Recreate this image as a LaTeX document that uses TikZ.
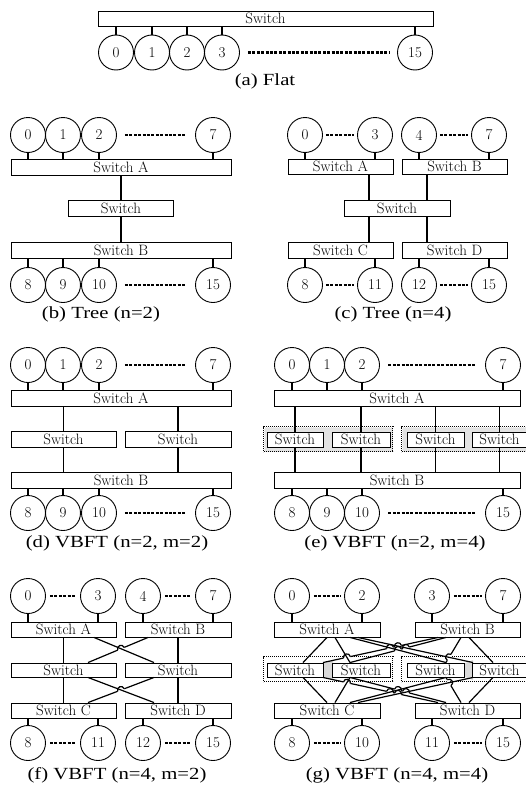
\documentclass[tikz,border=0pt]{standalone}
\usepackage{fontspec}
\newfontfamily\capfont[FakeStretch=1.22]{Liberation Serif}
\usetikzlibrary{calc}
\newcommand\hoperase[3]{%
  \coordinate (hX) at ($(#1)!#3!(#2)$);
  \coordinate (hA) at ($(hX)!3.5pt!(#1)$);
  \coordinate (hB) at ($(hX)!3.5pt!(#2)$);
  \draw[white,line width=2.8pt] (hA) -- (hB);}
\newcommand\hoparc[3]{%
  \coordinate (hX) at ($(#1)!#3!(#2)$);
  \coordinate (hA) at ($(hX)!3.5pt!(#1)$);
  \coordinate (hB) at ($(hX)!3.5pt!(#2)$);
  \draw[ln] (hA) .. controls ($(hA)!4.6pt!90:(hX)$) and ($(hB)!4.6pt!-90:(hX)$) .. (hB);}
\begin{document}
\begin{tikzpicture}[x=1pt,y=-1pt,
 sw/.style={draw,line width=0.9pt,fill=white,inner sep=0pt,font=\fontsize{15}{15}\selectfont},
 pe/.style={draw,circle,line width=0.9pt,minimum size=35pt,inner sep=0pt,font=\fontsize{15}{15}\selectfont},
 ln/.style={line width=1.2pt},
 dots/.style={line width=2.6pt,dash pattern=on 3pt off 1.4pt},
 captxt/.style={font=\capfont\fontsize{17}{17}\selectfont},
 grp/.style={draw,line width=0.9pt,dash pattern=on 1.3pt off 0.7pt,double=white,double distance=0.8pt,inner sep=0pt},
]
\fill[white] (0,0) rectangle (526,787);
\useasboundingbox (0,0) rectangle (526,787);

% ---------- (a) Flat
\node[sw,minimum width=335pt,minimum height=15pt] (aS) at (265.5,18.5) {Switch};
\foreach \n/\x/\t in {a0/116/0,a1/152/1,a2/187/2,a3/222/3,a15/415/15}
  \node[pe] (\n) at (\x,52.5) {\t};
\foreach \n in {a0,a1,a2,a3,a15} \draw[ln] (\n.north) -- (\n.north |- aS.south);
\draw[dots] ([xshift=8pt]a3.east) -- ([xshift=-8pt]a15.west);
\node[captxt] (capa) at (265,81) {(a) Flat};

% ---------- (b) Tree n=2
\foreach \n/\x/\t in {b0/28/0,b1/63/1,b2/99/2,b7/213/7}
  \node[pe] (\n) at (\x,135) {\t};
\node[sw,minimum width=220pt,minimum height=16pt] (bA) at (121,167) {Switch A};
\node[sw,minimum width=105pt,minimum height=16pt] (bM) at (121,208.5) {Switch};
\node[sw,minimum width=220pt,minimum height=16pt] (bB) at (121,250) {Switch B};
\foreach \n/\x/\t in {b8/28/8,b9/63/9,b10/99/10,b15/213/15}
  \node[pe] (\n) at (\x,285) {\t};
\foreach \n in {b0,b1,b2,b7} \draw[ln] (\n.south) -- (\n.south |- bA.north);
\foreach \n in {b8,b9,b10,b15} \draw[ln] (\n.north) -- (\n.north |- bB.south);
\draw[dots] ([xshift=8pt]b2.east) -- ([xshift=-10pt]b7.west);
\draw[dots] ([xshift=8pt]b10.east) -- ([xshift=-10pt]b15.west);
\draw[ln] (bA) -- (bM);
\draw[ln] (bM) -- (bB);
\node[captxt] (capb) at (101,314) {(b) Tree (n=2)};

% ---------- (c) Tree n=4
\foreach \n/\x/\t in {c0/305/0,c3/375/3,c4/419/4,c7/489/7}
  \node[pe] (\n) at (\x,135) {\t};
\node[sw,minimum width=105pt,minimum height=15pt] (cA) at (340.5,166.5) {Switch A};
\node[sw,minimum width=105pt,minimum height=15pt] (cB) at (454.5,166.5) {Switch B};
\node[sw,minimum width=106pt,minimum height=16pt] (cM) at (397,208) {Switch};
\node[sw,minimum width=105pt,minimum height=16pt] (cC) at (340.5,250) {Switch C};
\node[sw,minimum width=105pt,minimum height=16pt] (cD) at (454.5,250) {Switch D};
\foreach \n/\x/\t in {c8/305/8,c11/375/11,c12/419/12,c15/489/15}
  \node[pe] (\n) at (\x,285) {\t};
\foreach \n/\s in {c0/cA,c3/cA,c4/cB,c7/cB} \draw[ln] (\n.south) -- (\n.south |- \s.north);
\foreach \n/\s in {c8/cC,c11/cC,c12/cD,c15/cD} \draw[ln] (\n.north) -- (\n.north |- \s.south);
\draw[dots] ([xshift=3pt]c0.east) -- ([xshift=-3pt]c3.west);
\draw[dots] ([xshift=3pt]c4.east) -- ([xshift=-3pt]c7.west);
\draw[dots] ([xshift=3pt]c8.east) -- ([xshift=-3pt]c11.west);
\draw[dots] ([xshift=3pt]c12.east) -- ([xshift=-3pt]c15.west);
\draw[ln] ([xshift=28.5pt]cA.south) -- ([xshift=28.5pt]cA.south |- cM.north);
\draw[ln] ([xshift=-27.5pt]cB.south) -- ([xshift=-27.5pt]cB.south |- cM.north);
\draw[ln] ([xshift=28.5pt]cC.north) -- ([xshift=28.5pt]cC.north |- cM.south);
\draw[ln] ([xshift=-27.5pt]cD.north) -- ([xshift=-27.5pt]cD.north |- cM.south);
\node[captxt] (capc) at (393,314) {(c) Tree (n=4)};

% ---------- (d) VBFT n=2 m=2
\foreach \n/\x/\t in {d0/28/0,d1/63/1,d2/99/2,d7/213/7}
  \node[pe] (\n) at (\x,365) {\t};
\node[sw,minimum width=220pt,minimum height=16pt] (dA) at (121,398) {Switch A};
\node[sw,minimum width=105pt,minimum height=16pt] (dL) at (63.5,439) {Switch};
\node[sw,minimum width=106pt,minimum height=16pt] (dR) at (178,439) {Switch};
\node[sw,minimum width=220pt,minimum height=16pt] (dB) at (121,480) {Switch B};
\foreach \n/\x/\t in {d8/28/8,d9/63/9,d10/99/10,d15/213/15}
  \node[pe] (\n) at (\x,513) {\t};
\foreach \n in {d0,d1,d2,d7} \draw[ln] (\n.south) -- (\n.south |- dA.north);
\foreach \n in {d8,d9,d10,d15} \draw[ln] (\n.north) -- (\n.north |- dB.south);
\draw[dots] ([xshift=8pt]d2.east) -- ([xshift=-10pt]d7.west);
\draw[dots] ([xshift=8pt]d10.east) -- ([xshift=-10pt]d15.west);
\foreach \s in {dL,dR} {
  \draw[ln] (\s.north |- dA.south) -- (\s.north);
  \draw[ln] (\s.south) -- (\s.south |- dB.north);}
\node[captxt] (capd) at (117,543) {(d) VBFT (n=2, m=2)};

% ---------- (e) VBFT n=2 m=4
\foreach \n/\x/\t in {e0/292/0,e1/327/1,e2/362/2,e7/503/7}
  \node[pe] (\n) at (\x,365) {\t};
\node[sw,minimum width=246pt,minimum height=16pt] (eA) at (397,398) {Switch A};
\node[grp,fill=gray!22,minimum width=129pt,minimum height=25pt] (eG1) at (328.5,439.5) {};
\node[grp,fill=gray!22,minimum width=138pt,minimum height=25pt] (eG2) at (471,439.5) {};
\node[sw,minimum width=56pt,minimum height=15pt] (eS1) at (295,439.5) {Switch};
\node[sw,minimum width=58pt,minimum height=15pt] (eS2) at (361,439.5) {Switch};
\node[sw,minimum width=57pt,minimum height=15pt] (eS3) at (435.5,439.5) {Switch};
\node[sw,minimum width=55pt,minimum height=15pt] (eS4) at (499.5,439.5) {Switch};
\node[sw,minimum width=246pt,minimum height=16pt] (eB) at (397,480) {Switch B};
\foreach \n/\x/\t in {e8/292/8,e9/327/9,e10/362/10,e15/503/15}
  \node[pe] (\n) at (\x,513) {\t};
\foreach \n in {e0,e1,e2,e7} \draw[ln] (\n.south) -- (\n.south |- eA.north);
\foreach \n in {e8,e9,e10,e15} \draw[ln] (\n.north) -- (\n.north |- eB.south);
\draw[dots] ([xshift=8.5pt]e2.east) -- ([xshift=-10.5pt]e7.west);
\draw[dots] ([xshift=8.5pt]e10.east) -- ([xshift=-10.5pt]e15.west);
\foreach \s in {eS1,eS2,eS3,eS4} {
  \draw[ln] (\s.north |- eA.south) -- (\s.north);
  \draw[ln] (\s.south) -- (\s.south |- eB.north);}
\node[captxt] (cape) at (395,543) {(e) VBFT (n=2, m=4)};

% ---------- (f) VBFT n=4 m=2
\foreach \n/\x/\t in {f0/28/0,f3/98/3,f4/143/4,f7/213/7}
  \node[pe] (\n) at (\x,596) {\t};
\node[sw,minimum width=105pt,minimum height=15pt] (fA) at (63.5,629.5) {Switch A};
\node[sw,minimum width=106pt,minimum height=15pt] (fB) at (178,629.5) {Switch B};
\node[sw,minimum width=105pt,minimum height=14pt] (fL) at (63.5,670) {Switch};
\node[sw,minimum width=106pt,minimum height=14pt] (fR) at (178,670) {Switch};
\node[sw,minimum width=105pt,minimum height=15pt] (fC) at (63.5,710.5) {Switch C};
\node[sw,minimum width=106pt,minimum height=15pt] (fD) at (178,710.5) {Switch D};
\foreach \n/\x/\t in {f8/28/8,f11/98/11,f12/143/12,f15/213/15}
  \node[pe] (\n) at (\x,743) {\t};
\foreach \n/\s in {f0/fA,f3/fA,f4/fB,f7/fB} \draw[ln] (\n.south) -- (\n.south |- \s.north);
\foreach \n/\s in {f8/fC,f11/fC,f12/fD,f15/fD} \draw[ln] (\n.north) -- (\n.north |- \s.south);
\draw[dots] ([xshift=4pt]f0.east) -- ([xshift=-4pt]f3.west);
\draw[dots] ([xshift=4pt]f4.east) -- ([xshift=-4pt]f7.west);
\draw[dots] ([xshift=4pt]f8.east) -- ([xshift=-4pt]f11.west);
\draw[dots] ([xshift=4pt]f12.east) -- ([xshift=-4pt]f15.west);
\draw[ln] (fA) -- (fL); \draw[ln] (fL) -- (fC);
\draw[ln] (fB) -- (fR); \draw[ln] (fR) -- (fD);
\coordinate (fa1) at ([xshift=30.5pt]fA.south);
\coordinate (fr1) at ([xshift=-24pt]fR.north);
\coordinate (fb1) at ([xshift=-30pt]fB.south);
\coordinate (fl1) at ([xshift=24.5pt]fL.north);
\coordinate (fl2) at ([xshift=24.5pt]fL.south);
\coordinate (fd2) at ([xshift=-24pt]fD.north);
\coordinate (fr2) at ([xshift=-24pt]fR.south);
\coordinate (fc2) at ([xshift=24.5pt]fC.north);
\draw[ln] (fb1) -- (fl1);
\draw[ln] (fr2) -- (fc2);
\hoperase{fl1}{fb1}{0.55}
\hoperase{fc2}{fr2}{0.5}
\draw[ln] (fa1) -- (fr1);
\draw[ln] (fl2) -- (fd2);
\hoparc{fl1}{fb1}{0.55}
\hoparc{fc2}{fr2}{0.5}
\node[captxt] (capf) at (117,775) {(f) VBFT (n=4, m=2)};

% ---------- (g) VBFT n=4 m=4
\foreach \n/\x/\t in {g0/292/0,g2/362/2,g3/432/3,g7/503/7}
  \node[pe] (\n) at (\x,596) {\t};
\node[sw,minimum width=106pt,minimum height=15pt] (gA) at (327,629.5) {Switch A};
\node[sw,minimum width=105pt,minimum height=15pt] (gB) at (467.5,629.5) {Switch B};
\node[grp,fill=white,minimum width=129pt,minimum height=25pt] (gG1) at (328.5,669.5) {};
\node[grp,fill=white,minimum width=138pt,minimum height=25pt] (gG2) at (471,669.5) {};
\fill[gray!30] (322,664) -- (333,660) -- (333,680) -- (322,676) -- cycle;
\fill[gray!30] (463,664) -- (473,660) -- (473,680) -- (463,676) -- cycle;
\node[sw,minimum width=56pt,minimum height=14pt] (gS1) at (295,670) {Switch};
\node[sw,minimum width=58pt,minimum height=14pt] (gS2) at (361,670) {Switch};
\node[sw,minimum width=57pt,minimum height=14pt] (gS3) at (435.5,670) {Switch};
\node[sw,minimum width=55pt,minimum height=14pt] (gS4) at (499.5,670) {Switch};
\node[sw,minimum width=106pt,minimum height=15pt] (gC) at (327,710.5) {Switch C};
\node[sw,minimum width=105pt,minimum height=15pt] (gD) at (467.5,710.5) {Switch D};
\foreach \n/\x/\t in {g8/292/8,g10/362/10,g11/432/11,g15/503/15}
  \node[pe] (\n) at (\x,743) {\t};
\foreach \n/\s in {g0/gA,g2/gA,g3/gB,g7/gB} \draw[ln] (\n.south) -- (\n.south |- \s.north);
\foreach \n/\s in {g8/gC,g10/gC,g11/gD,g15/gD} \draw[ln] (\n.north) -- (\n.north |- \s.south);
\draw[dots] ([xshift=4pt]g0.east) -- ([xshift=-3pt]g2.west);
\draw[dots] ([xshift=4pt]g3.east) -- ([xshift=-3pt]g7.west);
\draw[dots] ([xshift=4pt]g8.east) -- ([xshift=-3pt]g10.west);
\draw[dots] ([xshift=4pt]g11.east) -- ([xshift=-3pt]g15.west);
% top end points
\coordinate (ga1) at ([xshift=0pt]gA.south);
\coordinate (ga2) at ([xshift=8pt]gA.south);
\coordinate (ga3) at ([xshift=23pt]gA.south);
\coordinate (ga4) at ([xshift=31pt]gA.south);
\coordinate (gb1) at ([xshift=-29.5pt]gB.south);
\coordinate (gb2) at ([xshift=-21.5pt]gB.south);
\coordinate (gb3) at ([xshift=-6.5pt]gB.south);
\coordinate (gb4) at ([xshift=1.5pt]gB.south);
\coordinate (gt1a) at ([xshift=8pt]gS1.north);
\coordinate (gt1b) at ([xshift=28pt]gS1.north);
\coordinate (gt2) at ([xshift=-11pt]gS2.north);
\coordinate (gt3) at ([xshift=10.5pt]gS3.north);
\coordinate (gt4a) at ([xshift=-26.5pt]gS4.north);
\coordinate (gt4b) at ([xshift=-6.5pt]gS4.north);
% bottom end points
\coordinate (gc1) at ([xshift=0pt]gC.north);
\coordinate (gc2) at ([xshift=8pt]gC.north);
\coordinate (gc3) at ([xshift=23pt]gC.north);
\coordinate (gc4) at ([xshift=31pt]gC.north);
\coordinate (gd1) at ([xshift=-29.5pt]gD.north);
\coordinate (gd2) at ([xshift=-21.5pt]gD.north);
\coordinate (gd3) at ([xshift=-6.5pt]gD.north);
\coordinate (gd4) at ([xshift=1.5pt]gD.north);
\coordinate (gu1a) at ([xshift=8pt]gS1.south);
\coordinate (gu1b) at ([xshift=28pt]gS1.south);
\coordinate (gu2) at ([xshift=-11pt]gS2.south);
\coordinate (gu3) at ([xshift=10.5pt]gS3.south);
\coordinate (gu4a) at ([xshift=-26.5pt]gS4.south);
\coordinate (gu4b) at ([xshift=-6.5pt]gS4.south);
% hopping lines first
\draw[ln] (gb1) -- (gt1b); \draw[ln] (gb2) -- (gt2); \draw[ln] (gb3) -- (gt3); \draw[ln] (gb4) -- (gt4b);
\draw[ln] (gd1) -- (gu1b); \draw[ln] (gd2) -- (gu2); \draw[ln] (gd3) -- (gu3); \draw[ln] (gd4) -- (gu4b);
\hoperase{gt1b}{gb1}{0.208} \hoperase{gt1b}{gb1}{0.583} \hoperase{gt1b}{gb1}{0.652}
\hoperase{gt2}{gb2}{0.5} \hoperase{gt2}{gb2}{0.583}
\hoperase{gt3}{gb3}{0.208}
\hoperase{gu1b}{gd1}{0.208} \hoperase{gu1b}{gd1}{0.583} \hoperase{gu1b}{gd1}{0.652}
\hoperase{gu2}{gd2}{0.5} \hoperase{gu2}{gd2}{0.583}
\hoperase{gu3}{gd3}{0.208}
% continuous lines
\draw[ln] (ga1) -- (gt1a); \draw[ln] (ga2) -- (gt2); \draw[ln] (ga3) -- (gt3); \draw[ln] (ga4) -- (gt4a);
\draw[ln] (gc1) -- (gu1a); \draw[ln] (gc2) -- (gu2); \draw[ln] (gc3) -- (gu3); \draw[ln] (gc4) -- (gu4a);
\hoparc{gt1b}{gb1}{0.208} \hoparc{gt1b}{gb1}{0.583} \hoparc{gt1b}{gb1}{0.652}
\hoparc{gt2}{gb2}{0.5} \hoparc{gt2}{gb2}{0.583}
\hoparc{gt3}{gb3}{0.208}
\hoparc{gu1b}{gd1}{0.208} \hoparc{gu1b}{gd1}{0.583} \hoparc{gu1b}{gd1}{0.652}
\hoparc{gu2}{gd2}{0.5} \hoparc{gu2}{gd2}{0.583}
\hoparc{gu3}{gd3}{0.208}
\node[captxt] (capg) at (397,775) {(g) VBFT (n=4, m=4)};
\end{tikzpicture}
\end{document}
